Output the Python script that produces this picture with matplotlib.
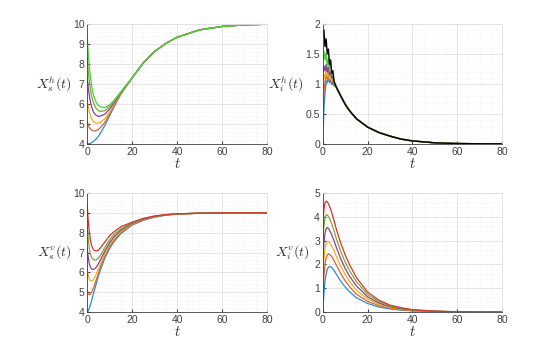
import numpy as np
import matplotlib
matplotlib.use('Agg')
import matplotlib.pyplot as plt
from matplotlib.ticker import MultipleLocator, FormatStrFormatter

plt.rcParams['font.family'] = ['Liberation Sans', 'DejaVu Sans']
plt.rcParams['mathtext.fontset'] = 'cm'

# matlab-ish colours (a bit lighter, like the reference)
colors = ['#2E8BD0', '#DE6331', '#EDB120', '#8A3E9C', '#77AC30', '#D9322B']

# ---- time grids ----
t = [0, 0.5, 1, 1.5, 2, 2.5, 3, 4, 5, 6, 8, 10, 12, 15, 20, 25, 30, 35, 40, 50, 60, 70, 80]
t_ih = [0, 0.5, 1, 1.5, 2, 2.5, 3, 3.5, 4, 4.5, 5, 6, 8, 10, 12, 15, 20, 25, 30, 35, 40, 50, 60, 70, 80]

# ---- X_s^h ----
sh_tail = [7.3, 8.05, 8.62, 9.02, 9.33, 9.7, 9.87, 9.95, 9.98]
sh_blue = [4.0, 4.0, 4.01, 4.03, 4.06, 4.1, 4.14, 4.25, 4.38, 4.55, 4.95, 5.4, 5.85, 6.48] + sh_tail
sh_orange = [5.13, 4.95, 4.82, 4.74, 4.69, 4.66, 4.65, 4.66, 4.72, 4.82, 5.1, 5.5, 5.92, 6.5] + sh_tail
sh_yellow = [6.2, 5.85, 5.58, 5.4, 5.26, 5.16, 5.1, 5.04, 5.04, 5.08, 5.28, 5.6, 5.98, 6.53] + sh_tail
sh_purple = [7.33, 6.8, 6.4, 6.08, 5.85, 5.68, 5.56, 5.43, 5.38, 5.39, 5.5, 5.75, 6.05, 6.56] + sh_tail
sh_green = [8.36, 7.65, 7.1, 6.7, 6.4, 6.17, 6.0, 5.78, 5.66, 5.62, 5.67, 5.87, 6.12, 6.58] + sh_tail
sh_lime = [9.44, 8.55, 7.85, 7.3, 6.9, 6.6, 6.38, 6.08, 5.92, 5.85, 5.82, 5.95, 6.18, 6.61] + sh_tail
sh_series = [sh_blue, sh_orange, sh_yellow, sh_purple, sh_green, sh_lime]
sh_colors = colors[:5] + ['#4CD13A']

# ---- X_i^h (jagged start) ----
ih_tail = [0.95, 0.8, 0.66, 0.55, 0.42, 0.28, 0.19, 0.13, 0.08, 0.05, 0.018, 0.006, 0.002, 0.001]
ih_blue = [0.0, 0.6, 0.85, 1.05, 1.02, 1.1, 1.02, 1.06, 0.99, 1.02, 0.97] + ih_tail
ih_orange = [0.35, 0.9, 1.0, 1.17, 1.08, 1.15, 1.05, 1.1, 1.02, 1.05, 0.98] + ih_tail
ih_yellow = [0.7, 1.15, 1.1, 1.28, 1.12, 1.22, 1.08, 1.15, 1.05, 1.08, 1.0] + ih_tail
ih_purple = [1.1, 1.3, 1.22, 1.32, 1.2, 1.28, 1.15, 1.2, 1.1, 1.12, 1.0] + ih_tail
ih_green = [1.45, 1.55, 1.4, 1.5, 1.3, 1.42, 1.25, 1.3, 1.15, 1.18, 1.03] + ih_tail
ih_black = [1.82, 1.9, 1.62, 1.75, 1.5, 1.58, 1.32, 1.4, 1.18, 1.22, 1.05] + ih_tail
ih_series = [ih_blue, ih_orange, ih_yellow, ih_purple, ih_green, ih_black]
ih_colors = colors[:4] + ['#4CD13A', 'black']

# ---- X_s^v ----
sv_blue = [4.0, 4.05, 4.2, 4.38, 4.58, 4.8, 5.0, 5.4, 5.8, 6.15, 6.75, 7.2, 7.55, 7.95, 8.38, 8.62, 8.78, 8.88, 8.94, 8.98, 9.0, 9.0, 9.0]
sv_orange = [5.1, 4.92, 4.87, 4.9, 5.0, 5.12, 5.27, 5.6, 5.95, 6.3, 6.85, 7.3, 7.62, 8.0, 8.41, 8.64, 8.8, 8.89, 8.94, 8.98, 9.0, 9.0, 9.0]
sv_yellow = [6.15, 5.85, 5.65, 5.57, 5.56, 5.6, 5.68, 5.9, 6.15, 6.45, 6.97, 7.4, 7.7, 8.05, 8.44, 8.66, 8.81, 8.9, 8.94, 8.98, 9.0, 9.0, 9.0]
sv_purple = [7.25, 6.75, 6.42, 6.25, 6.17, 6.15, 6.15, 6.25, 6.43, 6.65, 7.1, 7.5, 7.8, 8.12, 8.47, 8.68, 8.82, 8.9, 8.95, 8.98, 9.0, 9.0, 9.0]
sv_green = [8.35, 7.7, 7.2, 6.9, 6.75, 6.67, 6.63, 6.62, 6.72, 6.88, 7.28, 7.65, 7.92, 8.2, 8.5, 8.7, 8.83, 8.9, 8.95, 8.98, 9.0, 9.0, 9.0]
sv_red = [9.4, 8.6, 8.0, 7.6, 7.35, 7.2, 7.12, 7.07, 7.12, 7.25, 7.55, 7.85, 8.05, 8.3, 8.53, 8.72, 8.84, 8.91, 8.95, 8.98, 9.0, 9.0, 9.0]
sv_series = [sv_blue, sv_orange, sv_yellow, sv_purple, sv_green, sv_red]

# ---- X_i^v ----
iv_blue = [0, 0.75, 1.3, 1.6, 1.78, 1.88, 1.92, 1.87, 1.75, 1.6, 1.3, 1.05, 0.85, 0.6, 0.36, 0.21, 0.13, 0.08, 0.05, 0.018, 0.006, 0.002, 0.001]
iv_orange = [0.75, 1.5, 2.0, 2.28, 2.4, 2.45, 2.43, 2.33, 2.17, 1.98, 1.62, 1.31, 1.06, 0.75, 0.45, 0.27, 0.16, 0.1, 0.06, 0.022, 0.008, 0.003, 0.001]
iv_yellow = [1.45, 2.2, 2.65, 2.88, 2.97, 2.96, 2.92, 2.78, 2.58, 2.35, 1.93, 1.57, 1.28, 0.92, 0.55, 0.33, 0.19, 0.12, 0.07, 0.026, 0.009, 0.003, 0.001]
iv_purple = [2.15, 2.9, 3.3, 3.5, 3.55, 3.52, 3.44, 3.25, 3.0, 2.73, 2.24, 1.83, 1.5, 1.1, 0.64, 0.38, 0.22, 0.14, 0.08, 0.03, 0.01, 0.004, 0.001]
iv_green = [2.9, 3.6, 3.95, 4.08, 4.08, 4.02, 3.93, 3.7, 3.42, 3.1, 2.55, 2.1, 1.73, 1.28, 0.74, 0.44, 0.25, 0.16, 0.09, 0.033, 0.011, 0.004, 0.001]
iv_red = [3.6, 4.3, 4.6, 4.66, 4.63, 4.55, 4.45, 4.18, 3.85, 3.5, 2.9, 2.4, 1.98, 1.45, 0.84, 0.5, 0.29, 0.18, 0.1, 0.036, 0.012, 0.004, 0.001]
iv_series = [iv_blue, iv_orange, iv_yellow, iv_purple, iv_green, iv_red]


def style_axes(ax, ylim, ymajor, yminor, ylabel, lab_x):
  ax.set_xlim(0, 80)
  ax.set_ylim(*ylim)
  ax.xaxis.set_major_locator(MultipleLocator(20))
  ax.xaxis.set_minor_locator(MultipleLocator(5))
  ax.yaxis.set_major_locator(MultipleLocator(ymajor))
  ax.yaxis.set_minor_locator(MultipleLocator(yminor))
  ax.yaxis.set_major_formatter(FormatStrFormatter('%g'))
  ax.grid(which='major', color='#e0e0e0', lw=0.6)
  ax.grid(which='minor', color='#efefef', lw=0.5, ls=':')
  ax.set_axisbelow(True)
  ax.tick_params(which='both', direction='in', labelsize=7.5, labelcolor='#404040',
                 color='#404040', length=2.5, pad=2)
  ax.tick_params(which='minor', length=0)
  ax.tick_params(top=False, right=False)
  for s in ['left', 'bottom']:
    ax.spines[s].set_color('#404040')
    ax.spines[s].set_linewidth(0.6)
  for s in ['top', 'right']:
    ax.spines[s].set_color('#e0e0e0')
    ax.spines[s].set_linewidth(0.6)
  ax.set_xlabel('$t$', fontsize=10.5, labelpad=0, color='#303030')
  ax.set_ylabel(ylabel, fontsize=10, rotation=0, ha='right', va='center', color='#303030')
  ax.yaxis.set_label_coords(lab_x, 0.5)


fig = plt.figure(figsize=(5.48, 3.41), dpi=100)
ax1 = fig.add_axes([0.159, 0.578, 0.328, 0.352])
ax2 = fig.add_axes([0.589, 0.578, 0.327, 0.352])
ax3 = fig.add_axes([0.159, 0.085, 0.328, 0.349])
ax4 = fig.add_axes([0.589, 0.085, 0.327, 0.349])

for y, c in zip(sh_series, sh_colors):
  ax1.plot(t, y, color=c, lw=0.9)
style_axes(ax1, (4, 10), 1, 0.2, '$X_s^h(t)$', -0.085)

for y, c in zip(ih_series, ih_colors):
  ax2.plot(t_ih, y, color=c, lw=1.0)
style_axes(ax2, (0, 2), 0.5, 0.1, '$X_i^h(t)$', -0.105)

for y, c in zip(sv_series, colors):
  ax3.plot(t, y, color=c, lw=0.9)
style_axes(ax3, (4, 10), 1, 0.2, '$X_s^v(t)$', -0.085)

for y, c in zip(iv_series, colors):
  ax4.plot(t, y, color=c, lw=0.9)
style_axes(ax4, (0, 5), 1, 0.2, '$X_i^v(t)$', -0.07)

fig.savefig('out.png', dpi=100)
